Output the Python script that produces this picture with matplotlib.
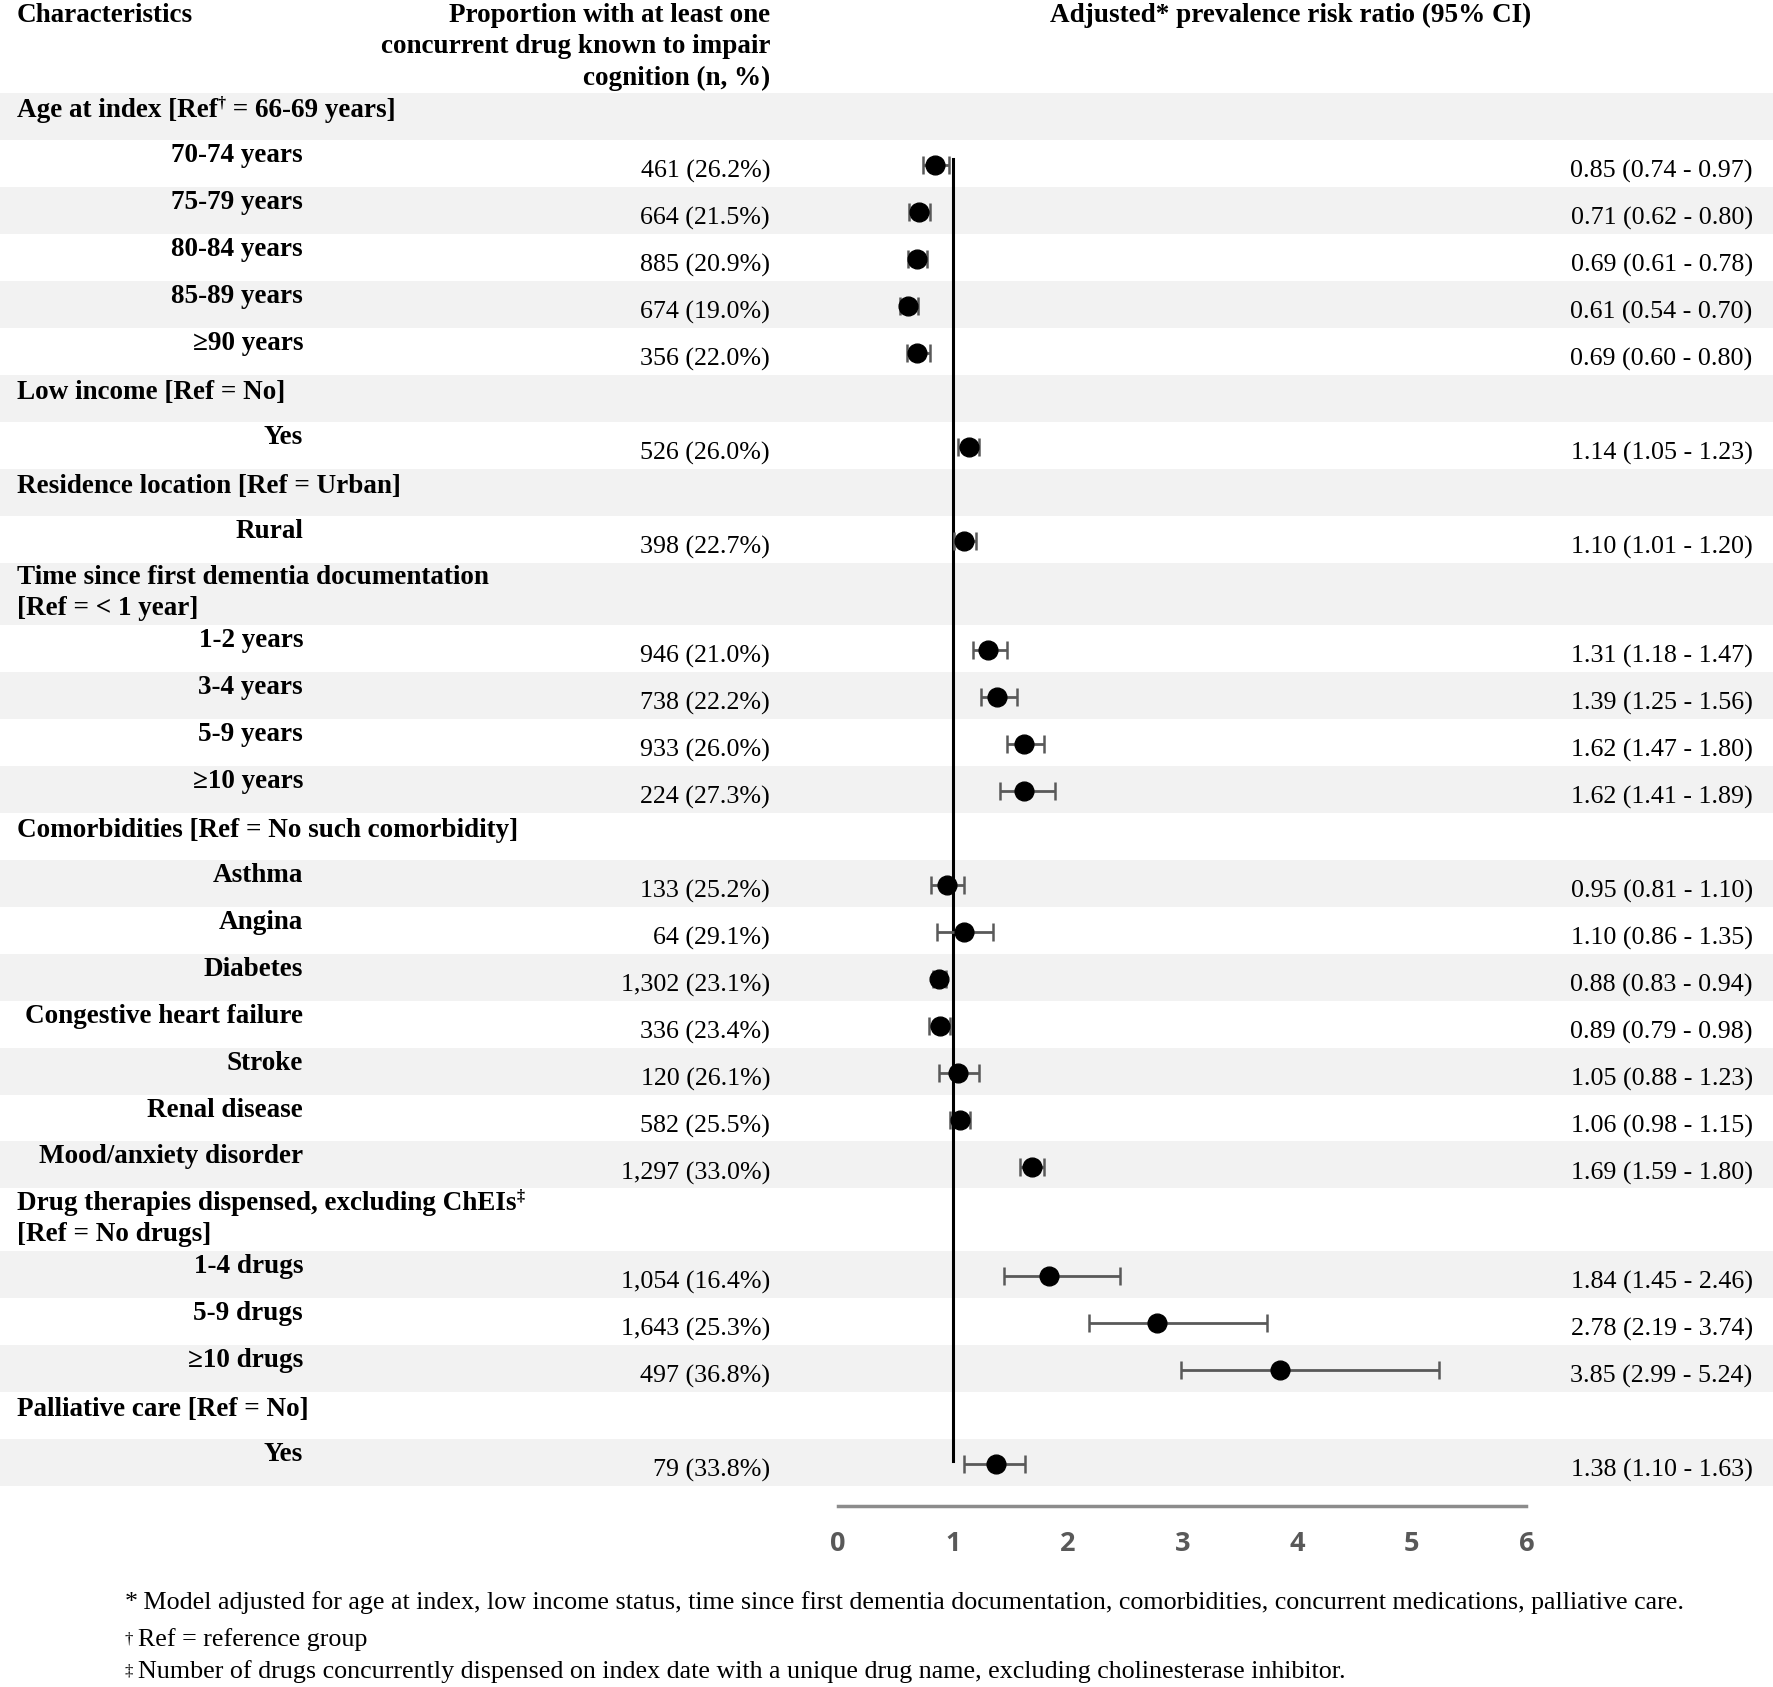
import matplotlib.pyplot as plt
import numpy as np

plt.rcParams['font.family'] = ['Liberation Serif', 'DejaVu Serif']

# groups (header rows) and the number of categories below each
group_titles = ["Age at index [Ref", "Low income [Ref = No]", "Residence location [Ref = Urban]",
                "Time since first dementia documentation\n[Ref = < 1 year]",
                "Comorbidities [Ref = No such comorbidity]",
                "Drug therapies dispensed, excluding ChEIs\n[Ref = No drugs]",
                "Palliative care [Ref = No]"]
group_sizes = [5, 1, 1, 4, 7, 3, 1]

categories = ["70-74 years", "75-79 years", "80-84 years", "85-89 years", "\u226590 years",
              "Yes", "Rural",
              "1-2 years", "3-4 years", "5-9 years", "\u226510 years",
              "Asthma", "Angina", "Diabetes", "Congestive heart failure", "Stroke",
              "Renal disease", "Mood/anxiety disorder",
              "1-4 drugs", "5-9 drugs", "\u226510 drugs",
              "Yes"]
n_users = [461, 664, 885, 674, 356, 526, 398, 946, 738, 933, 224,
           133, 64, 1302, 336, 120, 582, 1297, 1054, 1643, 497, 79]
pct_users = [26.2, 21.5, 20.9, 19.0, 22.0, 26.0, 22.7, 21.0, 22.2, 26.0, 27.3,
             25.2, 29.1, 23.1, 23.4, 26.1, 25.5, 33.0, 16.4, 25.3, 36.8, 33.8]
prr = [0.85, 0.71, 0.69, 0.61, 0.69, 1.14, 1.10, 1.31, 1.39, 1.62, 1.62,
       0.95, 1.10, 0.88, 0.89, 1.05, 1.06, 1.69, 1.84, 2.78, 3.85, 1.38]
ci_low = [0.74, 0.62, 0.61, 0.54, 0.60, 1.05, 1.01, 1.18, 1.25, 1.47, 1.41,
          0.81, 0.86, 0.83, 0.79, 0.88, 0.98, 1.59, 1.45, 2.19, 2.99, 1.10]
ci_high = [0.97, 0.80, 0.78, 0.70, 0.80, 1.23, 1.20, 1.47, 1.56, 1.80, 1.89,
           1.10, 1.35, 0.94, 0.98, 1.23, 1.15, 1.80, 2.46, 3.74, 5.24, 1.63]
x_ticks = [0, 1, 2, 3, 4, 5, 6]

footnotes = ["Model adjusted for age at index, low income status, time since first dementia documentation, "
             "comorbidities, concurrent medications, palliative care.",
             "Ref = reference group",
             "Number of drugs concurrently dispensed on index date with a unique drug name, "
             "excluding cholinesterase inhibitor."]

# layout in a 1568 x 1492 canvas
W, H = 1568, 1492
fig = plt.figure(figsize=(17.73, 16.87), dpi=100)
bg = fig.add_axes([0, 0, 1, 1])
bg.set_xlim(0, W)
bg.set_ylim(H, 0)
bg.axis('off')

FS = 18.7    # regular text
FB = 19.5    # bold text
band = '#f2f2f2'

# headers
bg.text(15, 14, "Characteristics", fontsize=FB, fontweight='bold', va='center')
for i, line in enumerate(["Proportion with at least one", "concurrent drug known to impair", "cognition (n, %)"]):
    bg.text(681, 14 + i * 27.5, line, fontsize=FB, fontweight='bold', ha='right', va='center')
bg.text(1141, 14, "Adjusted* prevalence risk ratio (95% CI)", fontsize=FB, fontweight='bold',
        ha='center', va='center')

row_h = 41.55
y = 82
row_i = 0
k = 0
marker_y = []
for g, title in enumerate(group_titles):
    h = 55 if '\n' in title else row_h
    if row_i % 2 == 0:
        bg.axhspan(y, y + h, color=band, lw=0, zorder=0)
    lines = title.split('\n')
    for j, line in enumerate(lines):
        ty = y + h * 0.38 if len(lines) == 1 else y + 13 + j * 27.5
        t = bg.text(15, ty, line, fontsize=FB, fontweight='bold', va='center')
        if g == 0:
            t2 = bg.annotate("\u2020", xy=(1, 0.45), xycoords=t, fontsize=FB * 0.6,
                             fontweight='bold', va='bottom')
            bg.annotate(" = 66-69 years]", xy=(1, 0), xycoords=(t2, t), fontsize=FB,
                        fontweight='bold', va='bottom')
        if g == 5 and j == 0:
            bg.annotate("\u2021", xy=(1, 0.45), xycoords=t, fontsize=FB * 0.6,
                        fontweight='bold', va='bottom')
    y += h
    row_i += 1
    for _ in range(group_sizes[g]):
        if row_i % 2 == 0:
            bg.axhspan(y, y + row_h, color=band, lw=0, zorder=0)
        bg.text(268, y + row_h * 0.33, categories[k], fontsize=FB, fontweight='bold',
                ha='right', va='center')
        bg.text(681, y + row_h * 0.68, f"{n_users[k]:,} ({pct_users[k]:.1f}%)", fontsize=FS,
                ha='right', va='center')
        bg.text(1550, y + row_h * 0.68, f"{prr[k]:.2f} ({ci_low[k]:.2f} - {ci_high[k]:.2f})",
                fontsize=FS, ha='right', va='center')
        marker_y.append(y + row_h * 0.54)
        y += row_h
        row_i += 1
        k += 1

# forest plot axes
x0, x1 = 741, 1350
ax = fig.add_axes([x0 / W, 0, (x1 - x0) / W, 1])
ax.set_xlim(0, 6)
ax.set_ylim(H, 0)
ax.patch.set_alpha(0)
marker_y = np.array(marker_y)
prr_a = np.array(prr)
err = [prr_a - np.array(ci_low), np.array(ci_high) - prr_a]
ax.plot([1, 1], [marker_y[0] - 5, marker_y[-1] - 3], color='black', lw=2.2, zorder=2)
ax.errorbar(prr, marker_y, xerr=err, fmt='none', ecolor='#595959', elinewidth=2.0,
            capsize=6.5, capthick=1.8, zorder=3)
ax.plot(prr, marker_y, 'o', color='black', markersize=13.5, zorder=4)

for s in ['top', 'left', 'right']:
    ax.spines[s].set_visible(False)
ax.spines['bottom'].set_position(('data', 1332))
ax.spines['bottom'].set_color('#8c8c8c')
ax.spines['bottom'].set_linewidth(2.5)
ax.set_yticks([])
ax.set_xticks(x_ticks)
ax.tick_params(axis='x', length=0, pad=18, labelsize=19.5, labelcolor='#595959')
for lab in ax.get_xticklabels():
    lab.set_fontfamily('Open Sans')
    lab.set_fontweight('bold')

# footnotes
marks = ["*", "\u2020", "\u2021"]
for i, (m, txt) in enumerate(zip(marks, footnotes)):
    fy = [1418, 1450, 1478][i]
    if i == 0:
        t = bg.text(110, fy, m, fontsize=FS, va='center')
        bg.annotate(" " + txt, xy=(1, 0), xycoords=t, fontsize=FS, va='bottom')
    else:
        bg.text(110, fy, m, fontsize=FS * 0.65, va='center')
        bg.text(122, fy, txt, fontsize=FS, va='center')

fig.savefig('out.png', dpi=100)
